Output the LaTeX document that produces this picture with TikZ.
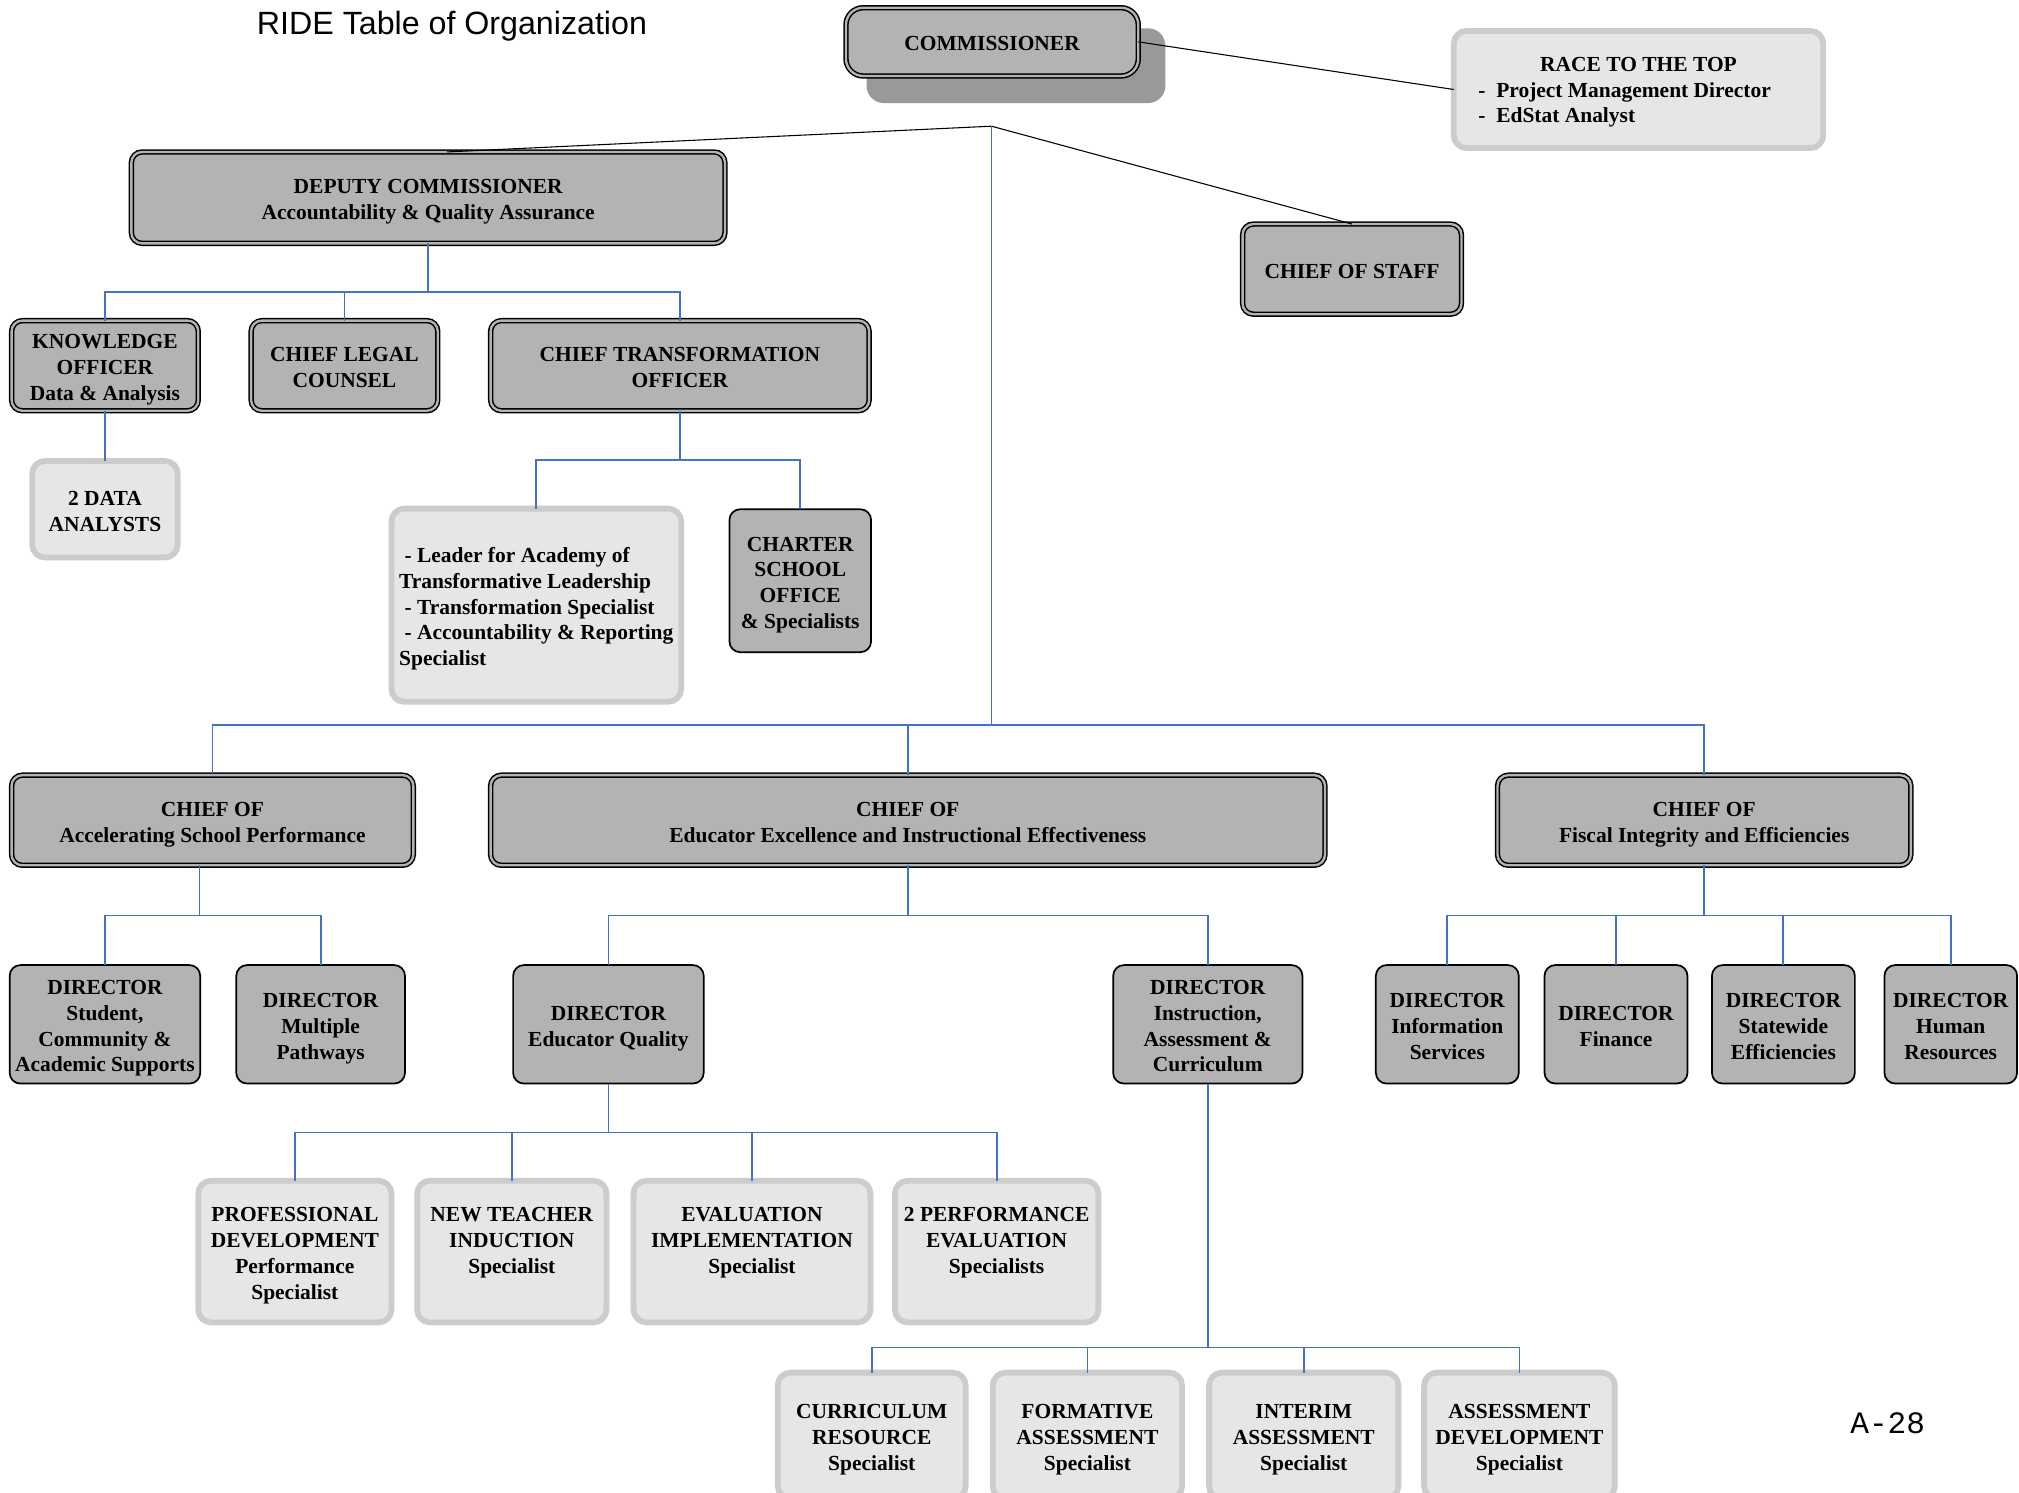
\documentclass[tikz,border=0pt]{standalone}
\usepackage{fontspec}
\setmainfont{Liberation Serif}
\newfontfamily\titlefont{Liberation Sans}
\newfontfamily\pagefont{Liberation Mono}
\usetikzlibrary{calc}
\definecolor{boxgray}{HTML}{B3B3B3}
\definecolor{lightfill}{HTML}{E6E6E6}
\definecolor{lightedge}{HTML}{CCCCCC}
\definecolor{shadowgray}{HTML}{999999}
\definecolor{connblue}{HTML}{4472C4}
% name, style, x1, y1, x2, y2, text
\newcommand\obox[7]{%
  \node[#2, minimum width={(#5-#3)*0.6pt}, minimum height={(#6-#4)*0.6pt}]
    (#1) at ({(#3+#5)/2},{(#4+#6)/2}) {\rule{0pt}{10.8pt}#7\rule[-2.4pt]{0pt}{0pt}};}
\begin{document}
\begin{tikzpicture}[x=0.6pt,y=-0.6pt,
  base/.style={font=\bfseries\fontsize{10}{12}\selectfont, align=center, inner sep=0pt, outer sep=0pt},
  dblbox/.style={base, rounded corners=5pt, fill=boxgray, draw=black, line width=0.7pt, double=boxgray, double distance=1.1pt},
  lightbox/.style={base, rounded corners=6pt, fill=lightfill, draw=lightedge, line width=2.7pt},
  plainbox/.style={base, rounded corners=5pt, fill=boxgray, draw=black, line width=0.8pt},
  conn/.style={draw=connblue, line width=0.85pt},
  blk/.style={draw=black, line width=0.5pt}]

\useasboundingbox (0,0) rectangle (1568,1159);
\clip (0,0) rectangle (1568,1159);

% title and page number
\node[font=\titlefont\fontsize{15}{18}\selectfont] (title) at (351,20) {RIDE Table of Organization};
\node[font=\pagefont\fontsize{14.5}{17}\selectfont] (pagenum) at (1466,1105) {A-28};

% commissioner with shadow
\fill[shadowgray, rounded corners=8pt] (673,22) rectangle (905,80);
\obox{com}{dblbox, rounded corners=8pt}{657}{6}{884}{59}{COMMISSIONER}

\obox{rtt}{lightbox}{1129}{24}{1416}{115}
  {\begin{tabular}{@{}l@{}}\multicolumn{1}{@{}c@{}}{\rule{0pt}{10.8pt}RACE TO THE TOP}\\
   -\ \ Project Management Director\hspace*{13pt}\\
   -\ \ EdStat Analyst\end{tabular}}

\coordinate (hub) at (770,98);

% top level
\obox{dep}{dblbox}{102}{118}{563}{189}{DEPUTY COMMISSIONER\\Accountability \& Quality Assurance}
\obox{cos}{dblbox}{965}{174}{1135}{244}{CHIEF OF STAFF}

% deputy's reports
\obox{kno}{dblbox}{9}{249}{154}{319}{KNOWLEDGE\\OFFICER\\Data \& Analysis}
\obox{leg}{dblbox}{195}{249}{340}{319}{CHIEF LEGAL\\COUNSEL}
\obox{tra}{dblbox}{381}{249}{675}{319}{CHIEF TRANSFORMATION\\OFFICER}
\obox{da}{lightbox}{25}{358}{138}{433}{2 DATA\\ANALYSTS}
\obox{lead}{lightbox}{304}{395}{529}{545}
  {\begin{tabular}{@{}l@{}}\rule{0pt}{12pt}\hspace*{0.25em}- Leader for Academy of\\Transformative Leadership\\\hspace*{0.25em}- Transformation Specialist\\\hspace*{0.25em}- Accountability \& Reporting\\Specialist\end{tabular}}
\obox{cha}{plainbox}{566.5}{395.5}{676.5}{506.5}{CHARTER\\SCHOOL\\OFFICE\\\& Specialists}

% chiefs
\obox{asp}{dblbox}{9}{602}{321}{672}{CHIEF OF\\Accelerating School Performance}
\obox{eei}{dblbox}{381}{602}{1029}{672}{CHIEF OF\\Educator Excellence and Instructional Effectiveness}
\obox{fie}{dblbox}{1163}{602}{1484}{672}{CHIEF OF\\Fiscal Integrity and Efficiencies}

% directors
\obox{dsc}{plainbox}{7.5}{749.5}{155.5}{841.5}{DIRECTOR\\Student,\\Community \&\\Academic Supports}
\obox{dmp}{plainbox}{183.5}{749.5}{314.5}{841.5}{DIRECTOR\\Multiple\\Pathways}
\obox{deq}{plainbox}{398.5}{749.5}{546.5}{841.5}{DIRECTOR\\Educator Quality}
\obox{dia}{plainbox}{864.5}{749.5}{1011.5}{841.5}{DIRECTOR\\Instruction,\\Assessment \&\\Curriculum}
\obox{dis}{plainbox}{1068.5}{749.5}{1179.5}{841.5}{DIRECTOR\\Information\\Services}
\obox{dfi}{plainbox}{1199.5}{749.5}{1310.5}{841.5}{DIRECTOR\\Finance}
\obox{dse}{plainbox}{1329.5}{749.5}{1440.5}{841.5}{DIRECTOR\\Statewide\\Efficiencies}
\obox{dhr}{plainbox}{1463.5}{749.5}{1566.5}{841.5}{DIRECTOR\\Human\\Resources}

% educator quality specialists
\obox{pd}{lightbox}{154}{917}{304}{1027}{PROFESSIONAL\\DEVELOPMENT\\Performance\\Specialist}
\obox{nti}{lightbox}{324}{917}{471}{1027}{NEW TEACHER\\INDUCTION\\Specialist\\~}
\obox{ei}{lightbox}{492}{917}{676}{1027}{EVALUATION\\IMPLEMENTATION\\Specialist\\~}
\obox{pe}{lightbox}{695}{917}{853}{1027}{2 PERFORMANCE\\EVALUATION\\Specialists\\~}

% instruction specialists
\obox{cr}{lightbox}{604}{1066}{750}{1164}{CURRICULUM\\RESOURCE\\Specialist}
\obox{fa}{lightbox}{771}{1066}{918}{1164}{FORMATIVE\\ASSESSMENT\\Specialist}
\obox{ia}{lightbox}{939}{1066}{1086}{1164}{INTERIM\\ASSESSMENT\\Specialist}
\obox{ad}{lightbox}{1106}{1066}{1254}{1164}{ASSESSMENT\\DEVELOPMENT\\Specialist}

% black connectors
\draw[blk] (com.east) -- (rtt.west);
\draw[blk] (hub) -- ($(dep.north)+(14.5,0)$);
\draw[blk] (hub) -- (cos.north);

% blue connectors
\draw[conn] (hub) -- ++(0,465) -| (asp.north);
\draw[conn] (hub) -- ++(0,465) -| (eei.north);
\draw[conn] (hub) -- ++(0,465) -| (fie.north);

\draw[conn] (dep.south) -- ++(0,38) -| (kno.north);
\draw[conn] (dep.south) -- ++(0,38) -| (leg.north);
\draw[conn] (dep.south) -- ++(0,38) -| (tra.north);
\draw[conn] (kno.south) -- (da.north);
\draw[conn] (tra.south) -- ++(0,38) -| (lead.north);
\draw[conn] (tra.south) -- ++(0,38) -| (cha.north);

\draw[conn] ($(asp.south)+(-10,0)$) -- ++(0,39) -| (dsc.north);
\draw[conn] ($(asp.south)+(-10,0)$) -- ++(0,39) -| (dmp.north);
\draw[conn] (eei.south) -- ++(0,39) -| (deq.north);
\draw[conn] (eei.south) -- ++(0,39) -| (dia.north);
\draw[conn] (fie.south) -- ++(0,39) -| (dis.north);
\draw[conn] (fie.south) -- ++(0,39) -| (dfi.north);
\draw[conn] (fie.south) -- ++(0,39) -| (dse.north);
\draw[conn] (fie.south) -- ++(0,39) -| (dhr.north);

\draw[conn] (deq.south) -- ++(0,38) -| (pd.north);
\draw[conn] (deq.south) -- ++(0,38) -| (nti.north);
\draw[conn] (deq.south) -- ++(0,38) -| (ei.north);
\draw[conn] (deq.south) -- ++(0,38) -| (pe.north);

\draw[conn] (dia.south) -- ++(0,205) -| (cr.north);
\draw[conn] (dia.south) -- ++(0,205) -| (fa.north);
\draw[conn] (dia.south) -- ++(0,205) -| (ia.north);
\draw[conn] (dia.south) -- ++(0,205) -| (ad.north);
\end{tikzpicture}
\end{document}
